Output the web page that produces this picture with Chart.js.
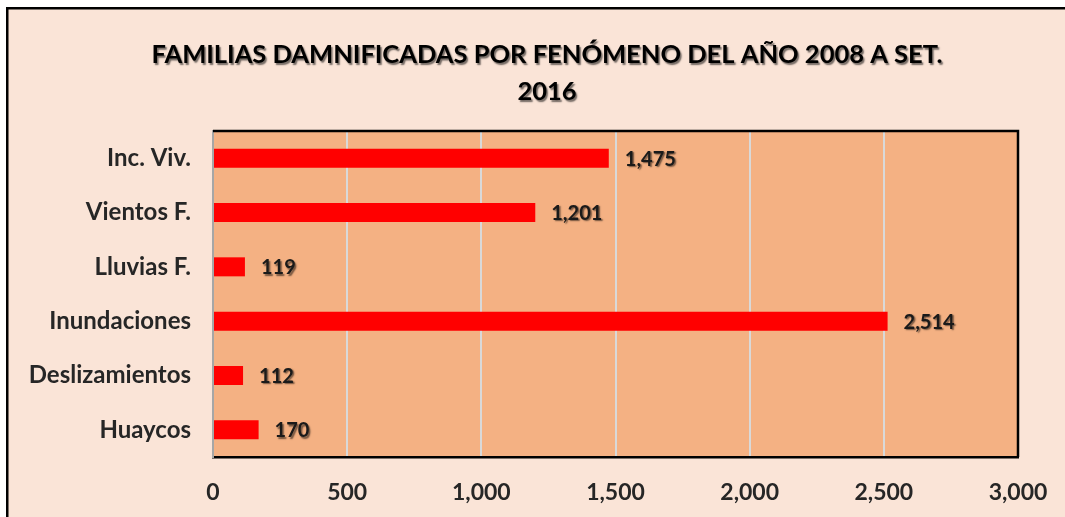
<!DOCTYPE html>
<html>
<head>
<meta charset="utf-8">
<script src="https://cdn.jsdelivr.net/npm/chart.js@4"></script>
<style>
  body { margin: 0; background: #fff; }
  canvas { display: block; }
</style>
</head>
<body>
<canvas id="chart" width="1065" height="517"></canvas>
<script>
const categories = ['Inc. Viv.', 'Vientos F.', 'Lluvias F.', 'Inundaciones', 'Deslizamientos', 'Huaycos'];
const familias = [1475, 1201, 119, 2514, 112, 170];
const titleLines = ['FAMILIAS DAMNIFICADAS POR FENÓMENO DEL AÑO 2008 A SET.', '2016'];

const FONT = 'Lato, "Open Sans", sans-serif';
const fmt = v => Number(v).toLocaleString('en-US');

// background, frame and plot area fill
const backdrop = {
  id: 'backdrop',
  beforeDraw(chart) {
    const { ctx, chartArea: a, width, height } = chart;
    ctx.save();
    ctx.fillStyle = '#ffffff';
    ctx.fillRect(0, 0, width, height);
    ctx.fillStyle = '#FAE4D7';
    ctx.fillRect(7, 8, width - 7, height - 8);
    ctx.fillStyle = '#000';
    ctx.fillRect(6, 7, width - 6, 2.5);
    ctx.fillRect(6, 7, 2.5, height - 7);
    ctx.fillStyle = '#F4B183';
    ctx.fillRect(a.left, a.top, a.right - a.left, a.bottom - a.top);
    ctx.restore();
  },
  afterDatasetsDraw(chart) {
    const { ctx, chartArea: a } = chart;
    ctx.save();
    ctx.strokeStyle = '#000';
    ctx.lineWidth = 2.5;
    ctx.beginPath();
    ctx.moveTo(a.left, a.top);
    ctx.lineTo(a.right, a.top);
    ctx.lineTo(a.right, a.bottom);
    ctx.stroke();

    // value labels
    const meta = chart.getDatasetMeta(0);
    ctx.font = 'bold 20px ' + FONT;
    ctx.textBaseline = 'middle';
    ctx.textAlign = 'left';
    ctx.fillStyle = '#1a1a1a';
    ctx.shadowColor = 'rgba(0,0,0,0.55)';
    ctx.shadowOffsetX = 1.5;
    ctx.shadowOffsetY = 1.5;
    ctx.shadowBlur = 1.5;
    meta.data.forEach((bar, i) => {
      ctx.fillText(fmt(familias[i]), bar.x + 16, bar.y + 1);
    });

    // title
    ctx.font = 'bold 25.5px ' + FONT;
    ctx.textAlign = 'center';
    ctx.fillStyle = '#000';
    ctx.fillText(titleLines[0], 547, 55);
    ctx.fillText(titleLines[1], 547, 92);
    ctx.restore();
  }
};

new Chart(document.getElementById('chart'), {
  type: 'bar',
  data: {
    labels: categories,
    datasets: [{
      data: familias,
      backgroundColor: '#FF0000',
      borderWidth: 0,
      barPercentage: 0.35,
      categoryPercentage: 1
    }]
  },
  options: {
    indexAxis: 'y',
    responsive: false,
    animation: false,
    layout: { padding: { top: 131, right: 47, left: 0, bottom: 0 } },
    plugins: {
      legend: { display: false },
      title: { display: false },
      tooltip: { enabled: false }
    },
    scales: {
      x: {
        min: 0,
        max: 3000,
        ticks: {
          stepSize: 500,
          padding: 22,
          color: '#262626',
          font: { family: FONT, size: 23, weight: 'bold' },
          callback: v => fmt(v)
        },
        grid: { color: '#D9D9D9', lineWidth: 2, drawTicks: false },
        border: { display: true, color: '#000', width: 2.5 },
        afterFit: s => { s.height = 60; s.paddingLeft = 0; s.paddingRight = 0; }
      },
      y: {
        ticks: {
          padding: 22,
          color: '#262626',
          font: { family: FONT, size: 24, weight: 'bold' }
        },
        grid: { display: false, drawTicks: false },
        border: { display: true, color: '#A6A6A6', width: 2 },
        afterFit: s => { s.width = 213; s.paddingTop = 0; s.paddingBottom = 0; }
      }
    }
  },
  plugins: [backdrop]
});
</script>
</body>
</html>
